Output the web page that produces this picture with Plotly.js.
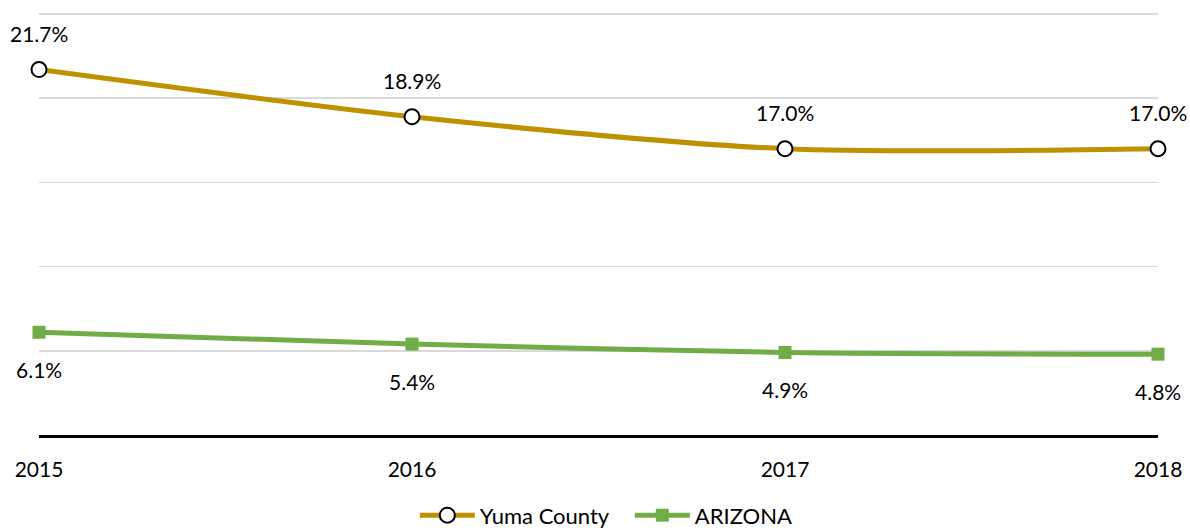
<!DOCTYPE html>
<html>
<head>
<meta charset="utf-8">
<script src="https://cdn.plot.ly/plotly-3.0.1.min.js"></script>
<style>html,body{margin:0;padding:0;background:#fff;}#chart{width:1190px;height:531px;}</style>
</head>
<body>
<div id="chart"></div>
<script>
const years = ['2015', '2016', '2017', '2018'];
const yumaCounty = [21.7, 18.9, 17.0, 17.0];
const arizona = [6.1, 5.4, 4.9, 4.8];
const seriesNames = ['Yuma County', 'ARIZONA'];

const FONT = 'Lato, "Open Sans", sans-serif';

const traces = [
  {
    x: years, y: yumaCounty, name: seriesNames[0], type: 'scatter', mode: 'lines+markers',
    line: {color: '#BF9000', width: 5, shape: 'spline', smoothing: 0.8},
    marker: {symbol: 'circle', size: 15, color: '#FFFFFF', line: {color: '#000000', width: 2}},
    cliponaxis: false, hoverinfo: 'skip'
  },
  {
    x: years, y: arizona, name: seriesNames[1], type: 'scatter', mode: 'lines+markers',
    line: {color: '#70AD47', width: 5, shape: 'spline', smoothing: 0.8},
    marker: {symbol: 'square', size: 13, color: '#70AD47', line: {color: '#70AD47', width: 0}},
    cliponaxis: false, hoverinfo: 'skip'
  }
];

const annotations = [];
years.forEach((yr, i) => {
  annotations.push({x: i, y: yumaCounty[i], xref: 'x', yref: 'y', text: yumaCounty[i].toFixed(1) + '%', showarrow: false,
    yshift: 36, xanchor: 'center', yanchor: 'middle', font: {family: FONT, size: 21, color: '#000'}});
  annotations.push({x: i, y: arizona[i], xref: 'x', yref: 'y', text: arizona[i].toFixed(1) + '%', showarrow: false,
    yshift: -37, xanchor: 'center', yanchor: 'middle', font: {family: FONT, size: 21, color: '#000'}});
});

const layout = {
  width: 1190, height: 531,
  margin: {l: 39, r: 32, t: 12, b: 96, autoexpand: false},
  paper_bgcolor: '#FFFFFF', plot_bgcolor: '#FFFFFF',
  font: {family: FONT, size: 21, color: '#000'},
  xaxis: {
    type: 'category', range: [0, 3], showgrid: false, zeroline: false,
    showline: true, linecolor: '#000000', linewidth: 3,
    ticks: 'outside', ticklen: 14, tickcolor: 'rgba(0,0,0,0)',
    tickfont: {family: FONT, size: 21, color: '#000'}, fixedrange: true
  },
  yaxis: {
    range: [0, 25.12], dtick: 5, showticklabels: false, zeroline: false,
    showgrid: true, gridcolor: '#D9D9D9', gridwidth: 1.5, showline: false, fixedrange: true
  },
  showlegend: true,
  legend: {orientation: 'h', x: 0.528, xanchor: 'center', y: -0.19, yanchor: 'middle',
    font: {family: FONT, size: 22, color: '#000'}, itemwidth: 55, traceorder: 'normal',
    entrywidth: 145, entrywidthmode: 'pixels'},
  annotations: annotations
};

Plotly.newPlot('chart', traces, layout, {displayModeBar: false, staticPlot: true});
</script>
</body>
</html>
